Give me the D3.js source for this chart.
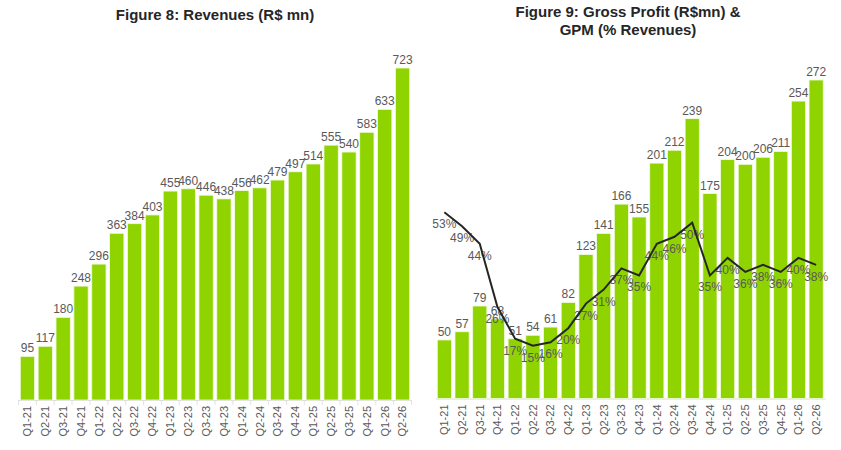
<!DOCTYPE html>
<html>
<head>
<meta charset="utf-8">
<script src="https://cdn.jsdelivr.net/npm/d3@7"></script>
<style>
  body { margin: 0; background: #fff; }
  svg { font-family: "Liberation Sans", Arial, sans-serif; }
</style>
</head>
<body>
<svg id="chart" width="841" height="450"></svg>
<script>
var quarters = ['Q1-21','Q2-21','Q3-21','Q4-21','Q1-22','Q2-22','Q3-22','Q4-22',
                'Q1-23','Q2-23','Q3-23','Q4-23','Q1-24','Q2-24','Q3-24','Q4-24',
                'Q1-25','Q2-25','Q3-25','Q4-25','Q1-26','Q2-26'];
var revenues = [95,117,180,248,296,363,384,403,455,460,446,438,456,462,479,497,514,555,540,583,633,723];
var grossProfit = [50,57,79,68,51,54,61,82,123,141,166,155,201,212,239,175,204,200,206,211,254,272];
var gpm = [53,49,44,26,17,15,16,20,27,31,37,35,44,46,50,35,40,36,38,36,40,38];

var barColor = '#8fd400';
var labelColor = '#595959';
var svg = d3.select('#chart');

function drawPanel(opts){
    var x = d3.scaleBand()
        .domain(quarters)
        .range(opts.xRange)
        .paddingInner(0.2)
        .paddingOuter(0.1);
    var y = d3.scaleLinear()
        .domain([0, opts.yMax])
        .range([opts.base, opts.top]);

    var g = svg.append('g');

    // title
    g.selectAll('.title')
        .data(opts.title)
        .enter().append('text')
        .attr('x', opts.titleX)
        .attr('y', function(d,i){ return opts.titleY + i * 17.5; })
        .attr('text-anchor', 'middle')
        .style('font-weight', 'bold')
        .style('font-size', '15px')
        .style('fill', '#262626')
        .text(function(d){ return d; });

    // baseline axis
    var axis = d3.axisBottom(x).tickSize(0).tickPadding(6);
    var ax = g.append('g')
        .attr('transform', 'translate(0,' + opts.base + ')')
        .call(axis);
    ax.select('.domain').attr('stroke', '#d9d9d9');
    ax.selectAll('text')
        .attr('transform', 'rotate(-90)')
        .attr('x', -6)
        .attr('y', 0)
        .attr('dy', '0.35em')
        .attr('text-anchor', 'end')
        .style('font-size', '11px')
        .style('font-family', '"Liberation Sans", Arial, sans-serif')
        .style('fill', labelColor);

    if (opts.sepTicks){
        g.selectAll('.sep')
            .data(d3.range(quarters.length + 1))
            .enter().append('line')
            .attr('x1', function(i){ return opts.xRange[0] + x.step() * i; })
            .attr('x2', function(i){ return opts.xRange[0] + x.step() * i; })
            .attr('y1', opts.base)
            .attr('y2', opts.base + 5)
            .attr('stroke', '#e3e3e3');
    }

    // bars
    g.selectAll('.bar')
        .data(opts.values)
        .enter().append('rect')
        .attr('x', function(d,i){ return x(quarters[i]); })
        .attr('width', x.bandwidth())
        .attr('y', function(d){ return y(d); })
        .attr('height', function(d){ return opts.base - y(d); })
        .attr('fill', barColor)
        .attr('stroke', '#f2fae0')
        .attr('stroke-width', 0.8);

    // bar labels
    g.selectAll('.blabel')
        .data(opts.values)
        .enter().append('text')
        .attr('x', function(d,i){ return x(quarters[i]) + x.bandwidth() / 2; })
        .attr('y', function(d){ return y(d) - 4; })
        .attr('text-anchor', 'middle')
        .style('font-size', '12px')
        .style('fill', labelColor)
        .text(function(d){ return d; });

    return {x: x, y: y, g: g};
}

drawPanel({
    title: ['Figure 8: Revenues (R$ mn)'],
    titleX: 215, titleY: 20,
    xRange: [18.5, 411.5],
    base: 400, top: 68, yMax: 723,
    values: revenues,
    sepTicks: true
});

var right = drawPanel({
    title: ['Figure 9: Gross Profit (R$mn) &', 'GPM (% Revenues)'],
    titleX: 628, titleY: 17,
    xRange: [435.5, 825],
    base: 398.5, top: 80, yMax: 272,
    values: grossProfit,
    sepTicks: false
});

// GPM line on secondary scale
var y2 = d3.scaleLinear().domain([0, 90.6]).range([398.5, 80]);
var line = d3.line()
    .x(function(d,i){ return right.x(quarters[i]) + right.x.bandwidth() / 2; })
    .y(function(d){ return y2(d); });

right.g.selectAll('.plabel')
    .data(gpm)
    .enter().append('text')
    .attr('x', function(d,i){ return right.x(quarters[i]) + right.x.bandwidth() / 2; })
    .attr('y', function(d){ return y2(d) + 16; })
    .attr('text-anchor', 'middle')
    .style('font-size', '12px')
    .style('fill', labelColor)
    .text(function(d){ return d + '%'; });

right.g.append('path')
    .datum(gpm)
    .attr('d', line)
    .attr('fill', 'none')
    .attr('stroke', '#262626')
    .attr('stroke-width', 2);
</script>
</body>
</html>
